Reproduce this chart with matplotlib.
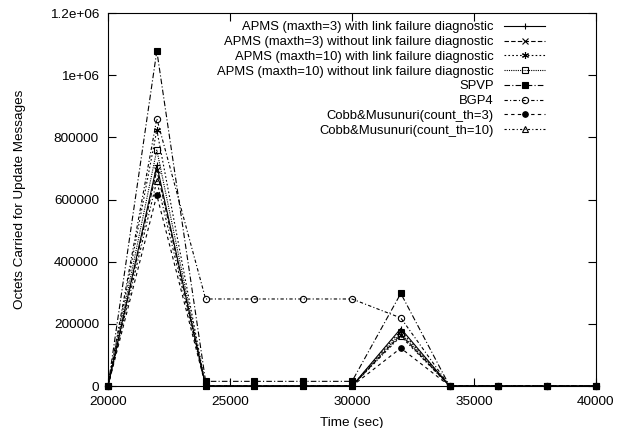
import matplotlib
matplotlib.use('Agg')
import matplotlib.pyplot as plt

plt.rcParams['font.family'] = ['Liberation Sans', 'DejaVu Sans']
plt.rcParams['font.size'] = 9.7

# data
time = [20000, 22000, 24000, 26000, 28000, 30000, 32000, 34000, 36000, 38000, 40000]
apms3_with = [0, 710000, 0, 0, 0, 0, 185000, 0, 0, 0, 0]
apms3_without = [0, 695000, 0, 0, 0, 0, 165000, 0, 0, 0, 0]
apms10_with = [0, 823000, 0, 0, 0, 0, 178000, 0, 0, 0, 0]
apms10_without = [0, 759000, 0, 0, 0, 0, 170000, 0, 0, 0, 0]
spvp = [0, 1078000, 15000, 15000, 15000, 15000, 298000, 0, 0, 0, 0]
bgp4 = [0, 860000, 280000, 280000, 280000, 280000, 219000, 0, 0, 0, 0]
cobb3 = [0, 614000, 0, 0, 0, 0, 122000, 0, 0, 0, 0]
cobb10 = [0, 660000, 0, 0, 0, 0, 160000, 0, 0, 0, 0]

labels = ['APMS (maxth=3) with link failure diagnostic',
          'APMS (maxth=3) without link failure diagnostic',
          'APMS (maxth=10) with link failure diagnostic',
          'APMS (maxth=10) without link failure diagnostic',
          'SPVP', 'BGP4',
          'Cobb&Musunuri(count_th=3)',
          'Cobb&Musunuri(count_th=10)']

xticks = [20000, 25000, 30000, 35000, 40000]
yticks = [0, 200000, 400000, 600000, 800000, 1000000, 1200000]
ytick_labels = ['0', '200000', '400000', '600000', '800000', '1e+06', '1.2e+06']

fig = plt.figure(figsize=(6.18, 4.28), dpi=100)
ax = fig.add_axes([0.1748, 0.0981, 0.7896, 0.8715])

k = dict(color='black', lw=0.8, mew=0.8, clip_on=False)
ax.plot(time, apms3_with, linestyle='-', marker='+', ms=5, label=labels[0], **k)
ax.plot(time, apms3_without, linestyle=(0, (4, 2)), marker='x', ms=4, label=labels[1], **k)
ax.plot(time, apms10_with, linestyle=(0, (1.5, 2)), marker=(6, 2, 0), ms=5, label=labels[2], **k)
ax.plot(time, apms10_without, linestyle=(0, (1, 1)), marker='s', mfc='none', ms=4.5, label=labels[3], **k)
ax.plot(time, spvp, linestyle=(0, (5, 2, 1, 2)), marker='s', ms=5, label=labels[4], zorder=3, **k)
ax.plot(time, bgp4, linestyle=(0, (3, 2, 1, 2)), marker='o', mfc='none', ms=4.5, label=labels[5], **k)
ax.plot(time, cobb3, linestyle=(0, (3, 3)), marker='o', ms=4, label=labels[6], **k)
ax.plot(time, cobb10, linestyle=(0, (2, 2, 1, 2)), marker='^', mfc='none', ms=4.5, label=labels[7], **k)

ax.set_xlim(20000, 40000)
ax.set_ylim(0, 1200000)
ax.set_xticks(xticks)
ax.set_xticklabels([str(t) for t in xticks])
ax.set_yticks(yticks)
ax.set_yticklabels(ytick_labels)
ax.tick_params(direction='in', length=6, width=0.8, top=True, right=True)
ax.tick_params(axis='x', pad=7)
ax.tick_params(axis='y', pad=6.5)
for s in ax.spines.values():
    s.set_linewidth(0.8)

ax.set_xlabel('Time (sec)', labelpad=7)
ax.set_ylabel('Octets Carried for Update Messages', labelpad=17)

ax.legend(loc='upper right', bbox_to_anchor=(0.895, 0.978), frameon=False,
          markerfirst=False, handlelength=3.1, handletextpad=0.8,
          labelspacing=0.2, borderpad=0, borderaxespad=0, fontsize=9.4)

fig.savefig('out.png', dpi=100)
